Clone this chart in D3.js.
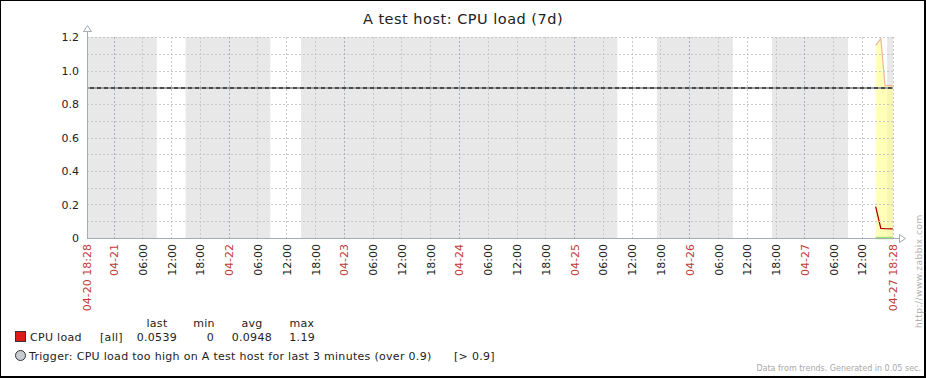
<!DOCTYPE html>
<html>
<head>
<meta charset="utf-8">
<script src="https://cdn.jsdelivr.net/npm/d3@7"></script>
<style>
    html, body { margin: 0; padding: 0; background: #fff; }
    svg text { font-family: "DejaVu Sans", sans-serif; }
</style>
</head>
<body>
<svg id="graph" width="926" height="378"></svg>
<script>
// Period of the graph
const timeStart = "2016-04-20 18:28";
const timeEnd = "2016-04-27 18:28";

// Working time (white background), everything else is shaded
const workFrom = ["2016-04-21 09:00", "2016-04-22 08:40", "2016-04-25 09:00", "2016-04-26 09:05", "2016-04-27 09:05"];
const workTo = ["2016-04-21 15:00", "2016-04-22 15:05", "2016-04-25 17:15", "2016-04-26 17:15", "2016-04-27 17:15"];

// Trend data (only the last hours have values)
const trendTimes = ["2016-04-27 14:51", "2016-04-27 15:56", "2016-04-27 16:48", "2016-04-27 18:26"];
const trendMin = [0, 0, 0, 0];
const trendAvg = [0.187, 0.058, 0.056, 0.054];
const trendMax = [1.15, 1.19, 0.91, 0.91];

const yTicks = [0, 0.2, 0.4, 0.6, 0.8, 1.0, 1.2];
const yGrid = [0.1, 0.2, 0.3, 0.4, 0.5, 0.6, 0.7, 0.8, 0.9, 1.0, 1.1, 1.2];
const triggerValue = 0.9;

const legendHeaders = ["last", "min", "avg", "max"];
const legendValues = ["0.0539", "0", "0.0948", "1.19"];

class ZabbixGraph{
    constructor(){
        this.svg = d3.select("svg#graph");
        this.width = 926;
        this.height = 378;
        this.plot = {left: 87, right: 893, top: 37, bottom: 238};
        this.parseTime = d3.timeParse("%Y-%m-%d %H:%M");
        this.axisColor = "#a4acb2";
        this.textColor = "#222";
        this.dateColor = "#c23a3a";
    }

    init = () => {
        this.x = d3.scaleTime()
            .domain([this.parseTime(timeStart), this.parseTime(timeEnd)])
            .range([this.plot.left, this.plot.right]);
        this.y = d3.scaleLinear().domain([0, 1.2]).range([this.plot.bottom, this.plot.top]);
        // 6h ticks, skipping the ones too close to the period end
        let end = this.x.domain()[1];
        this.timeTicks = d3.timeHour.every(6).range(this.x.domain()[0], end).filter(t => end - t > 3 * 3600 * 1000);
        this.drawFrame();
        this.drawBackground();
        this.drawData();
        this.drawGrid();
        this.drawTrigger();
        this.drawAxes();
        this.drawLegend();
    }

    drawFrame = () => {
        this.svg.append("rect").attr("width", this.width).attr("height", this.height).attr("fill", "#000");
        this.svg.append("rect").attr("x", 1).attr("y", 1).attr("width", this.width - 3).attr("height", this.height - 3).attr("fill", "#fff");
        this.svg.append("text")
            .attr("x", 463).attr("y", 24)
            .attr("text-anchor", "middle")
            .attr("font-size", "14.5px")
            .attr("letter-spacing", "0.5px")
            .attr("fill", this.textColor)
            .text("A test host: CPU load (7d)");
    }

    drawBackground = () => {
        let p = this.plot;
        this.svg.append("rect")
            .attr("x", p.left).attr("y", p.top)
            .attr("width", p.right - p.left).attr("height", p.bottom - p.top)
            .attr("fill", "#e8e8e8");
        let periods = workFrom.map((a, i) => [this.parseTime(a), this.parseTime(workTo[i])]);
        this.svg.append("g").selectAll("rect").data(periods).enter()
            .append("rect")
            .attr("x", d => this.x(d[0]))
            .attr("y", p.top)
            .attr("width", d => this.x(d[1]) - this.x(d[0]))
            .attr("height", p.bottom - p.top)
            .attr("fill", "#fff");
    }

    drawGrid = () => {
        let p = this.plot;
        let g = this.svg.append("g");
        g.selectAll("line.hgrid").data(yGrid).enter()
            .append("line")
            .attr("x1", p.left).attr("x2", p.right)
            .attr("y1", d => Math.round(this.y(d)) + 0.5)
            .attr("y2", d => Math.round(this.y(d)) + 0.5)
            .attr("stroke", "#c8c8c8")
            .attr("stroke-dasharray", "2,2");
        let ticks = this.timeTicks.concat([this.x.domain()[1]]);
        g.selectAll("line.vgrid").data(ticks).enter()
            .append("line")
            .attr("x1", d => Math.round(this.x(d)) + 0.5)
            .attr("x2", d => Math.round(this.x(d)) + 0.5)
            .attr("y1", p.top).attr("y2", p.bottom)
            .attr("stroke", d => d.getHours() == 0 ? "#a8b0bc" : "#c8c8c8")
            .attr("stroke-dasharray", "2,2");
    }

    drawData = () => {
        let points = trendTimes.map((t, i) => ({t: this.parseTime(t), min: trendMin[i], avg: trendAvg[i], max: trendMax[i]}));
        let area = d3.area().x(d => this.x(d.t)).y0(d => this.y(d.min)).y1(d => this.y(d.max));
        this.svg.append("path").datum(points)
            .attr("d", area)
            .attr("fill", "rgba(255,255,140,0.6)");
        let line = key => d3.line().x(d => this.x(d.t)).y(d => this.y(d[key]));
        this.svg.append("path").datum(points).attr("d", line("max"))
            .attr("fill", "none").attr("stroke", "#f2b49c").attr("stroke-width", 1.2);
        this.svg.append("path").datum(points).attr("d", line("min"))
            .attr("fill", "none").attr("stroke", "#9ce07c").attr("stroke-width", 2.5);
        this.svg.append("path").datum(points).attr("d", line("avg"))
            .attr("fill", "none").attr("stroke", "#b40000").attr("stroke-width", 1.3);
    }

    drawTrigger = () => {
        let p = this.plot;
        let ty = Math.round(this.y(triggerValue)) + 1;
        this.svg.append("line")
            .attr("x1", p.left).attr("x2", p.right).attr("y1", ty).attr("y2", ty)
            .attr("stroke", "#9aa2a8").attr("stroke-width", 2);
        this.svg.append("line")
            .attr("x1", p.left + 3).attr("x2", p.right).attr("y1", ty).attr("y2", ty)
            .attr("stroke", "#4a4a4a").attr("stroke-width", 2)
            .attr("stroke-dasharray", "4,3");
    }

    drawAxes = () => {
        let p = this.plot;
        let g = this.svg.append("g");
        // y axis with arrow
        g.append("line").attr("x1", p.left + 0.5).attr("x2", p.left + 0.5).attr("y1", p.top - 6).attr("y2", p.bottom + 1)
            .attr("stroke", this.axisColor);
        g.append("path")
            .attr("d", `M${p.left - 3.5},${p.top - 5.5} L${p.left + 4.5},${p.top - 5.5} L${p.left + 0.5},${p.top - 11.5} Z`)
            .attr("fill", "#fff").attr("stroke", this.axisColor);
        // x axis with arrow
        g.append("line").attr("x1", p.left).attr("x2", p.right + 6).attr("y1", p.bottom + 0.5).attr("y2", p.bottom + 0.5)
            .attr("stroke", this.axisColor);
        g.append("path")
            .attr("d", `M${p.right + 6.5},${p.bottom - 3.5} L${p.right + 6.5},${p.bottom + 4.5} L${p.right + 12.5},${p.bottom + 0.5} Z`)
            .attr("fill", "#fff").attr("stroke", this.axisColor);

        // y labels
        let yAxis = d3.axisLeft(this.y).tickValues(yTicks).tickSize(0).tickPadding(0)
            .tickFormat(d => d == 0 ? "0" : d3.format(".1f")(d));
        let ya = g.append("g").attr("transform", `translate(${p.left - 8},0)`).call(yAxis);
        ya.select(".domain").remove();
        ya.selectAll("text").attr("font-size", "11px").attr("fill", this.textColor).attr("font-family", "DejaVu Sans");

        // x labels
        let labels = [{t: this.x.domain()[0], txt: timeStart.slice(5), red: true}]
            .concat(this.timeTicks.map(t => ({t: t, txt: t.getHours() == 0 ? d3.timeFormat("%m-%d")(t) : d3.timeFormat("%H:%M")(t), red: t.getHours() == 0})))
            .concat([{t: this.x.domain()[1], txt: timeEnd.slice(5), red: true}]);
        g.selectAll("text.xlab").data(labels).enter()
            .append("text")
            .attr("transform", d => `translate(${this.x(d.t) + 0.5},${p.bottom + 6}) rotate(-90)`)
            .attr("text-anchor", "end")
            .attr("dy", "0.36em")
            .attr("font-size", "11px")
            .attr("fill", d => d.red ? this.dateColor : this.textColor)
            .text(d => d.txt);
    }

    drawLegend = () => {
        let g = this.svg.append("g").attr("font-size", "11px").attr("fill", this.textColor).attr("letter-spacing", "0.3px");
        let cols = [157, 204, 252, 302];
        g.selectAll("text.head").data(legendHeaders).enter()
            .append("text").attr("x", (d, i) => cols[i]).attr("y", 327).attr("text-anchor", "middle").text(d => d);
        g.append("rect").attr("x", 15.5).attr("y", 331.5).attr("width", 10).attr("height", 10)
            .attr("fill", "#dd1a1a").attr("stroke", "#333");
        g.append("text").attr("x", 30).attr("y", 341).text("CPU load");
        g.append("text").attr("x", 100).attr("y", 341).text("[all]");
        let valRight = [177, 214, 272, 315];
        g.selectAll("text.val").data(legendValues).enter()
            .append("text").attr("x", (d, i) => valRight[i]).attr("y", 341).attr("text-anchor", "end").text(d => d);
        g.append("circle").attr("cx", 20.5).attr("cy", 355.5).attr("r", 5)
            .attr("fill", "#c8ccd0").attr("stroke", "#333");
        g.append("text").attr("x", 29).attr("y", 360).attr("letter-spacing", "0.3px")
            .text(`Trigger: CPU load too high on A test host for last 3 minutes (over ${triggerValue})`);
        g.append("text").attr("x", 454).attr("y", 360).text(`[> ${triggerValue}]`);

        this.svg.append("text")
            .attr("x", 921).attr("y", 371).attr("text-anchor", "end")
            .attr("font-size", "8px").attr("fill", "#a8a8a8")
            .text("Data from trends. Generated in 0.05 sec.");
        this.svg.append("text")
            .attr("transform", "translate(919,328) rotate(-90)")
            .attr("dy", "0.35em")
            .attr("font-size", "9px").attr("letter-spacing", "0.5px").attr("fill", "#b0b0b0")
            .text("http://www.zabbix.com");
    }
}

new ZabbixGraph().init();
</script>
</body>
</html>
